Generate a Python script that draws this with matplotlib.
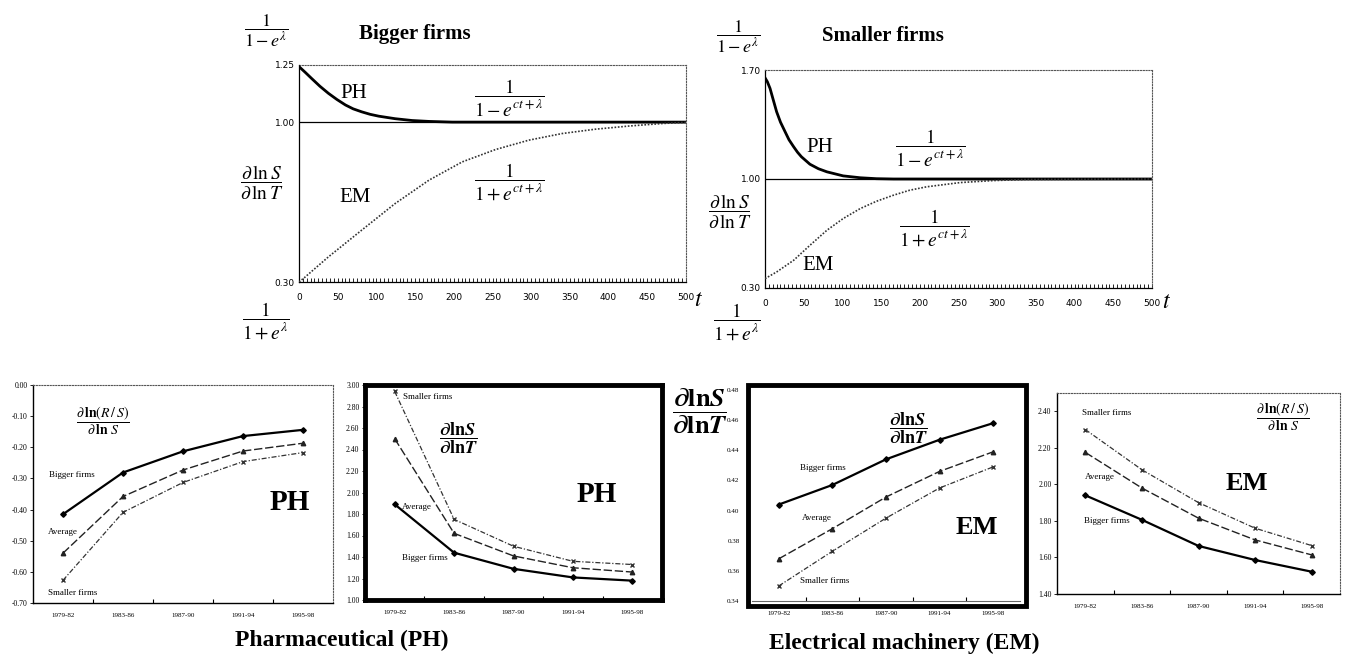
import matplotlib
matplotlib.use('Agg')
import matplotlib.pyplot as plt
import numpy as np
from matplotlib.ticker import MultipleLocator, FixedLocator
from matplotlib.patches import Rectangle

# ---------------- data ----------------
# Top panels: curves (t, dlnS/dlnT)
t_big_ph = [0, 8, 16, 27, 38, 49, 60, 70, 81, 92, 103, 124, 146, 168, 198, 500]
v_big_ph = [1.243, 1.218, 1.192, 1.157, 1.126, 1.099, 1.075, 1.058, 1.045, 1.034, 1.026, 1.015,
            1.007, 1.003, 1.000, 1.000]
t_big_em = [0, 8, 38, 81, 124, 168, 211, 254, 297, 340, 383, 427, 470, 500]
v_big_em = [0.300, 0.322, 0.410, 0.527, 0.643, 0.746, 0.826, 0.880, 0.921, 0.950, 0.969, 0.983, 0.994, 0.999]
t_small_ph = [0, 3, 6.5, 10, 15, 20, 26, 31, 37, 42, 47, 58, 69, 80, 101, 123, 144, 166, 500]
v_small_ph = [1.650, 1.625, 1.582, 1.520, 1.432, 1.365, 1.303, 1.252, 1.207, 1.172, 1.143, 1.095,
              1.066, 1.046, 1.020, 1.008, 1.002, 1.000, 1.000]
t_small_em = [0, 15, 37, 58, 80, 101, 123, 144, 166, 187, 209, 252, 295, 338, 500]
v_small_em = [0.360, 0.403, 0.478, 0.574, 0.671, 0.746, 0.810, 0.857, 0.896, 0.928, 0.950, 0.977, 0.990, 0.997, 1.000]

periods = ['1979-82', '1983-86', '1987-90', '1991-94', '1995-98']

# PH: dln(R/S)/dlnS
ph_rs_bigger = [-0.415, -0.281, -0.213, -0.164, -0.144]
ph_rs_average = [-0.540, -0.358, -0.273, -0.212, -0.187]
ph_rs_smaller = [-0.627, -0.409, -0.313, -0.246, -0.217]
# PH: dlnS/dlnT
ph_st_smaller = [2.94, 1.75, 1.50, 1.36, 1.33]
ph_st_average = [2.50, 1.62, 1.41, 1.30, 1.26]
ph_st_bigger = [1.89, 1.44, 1.29, 1.21, 1.18]
# EM: dlnS/dlnT
em_st_bigger = [0.404, 0.417, 0.434, 0.447, 0.458]
em_st_average = [0.368, 0.388, 0.409, 0.426, 0.439]
em_st_smaller = [0.350, 0.373, 0.395, 0.415, 0.429]
# EM: dln(R/S)/dlnS
em_rs_smaller = [2.30, 2.08, 1.90, 1.76, 1.665]
em_rs_average = [2.175, 1.98, 1.815, 1.696, 1.614]
em_rs_bigger = [1.94, 1.806, 1.663, 1.586, 1.522]

# ---------------- figure ----------------
W, H = 1347, 656
plt.rcParams['mathtext.fontset'] = 'stix'
plt.rcParams['font.family'] = ['Liberation Serif', 'DejaVu Serif']
fig = plt.figure(figsize=(W / 100, H / 100), dpi=100)
fig.patch.set_facecolor('white')


def add_ax(x0, y0, x1, y1):
    return fig.add_axes([x0 / W, 1 - y1 / H, (x1 - x0) / W, (y1 - y0) / H])


def ft(x, y, s, **kw):
    kw.setdefault('ha', 'center')
    kw.setdefault('va', 'center')
    return fig.text(x / W, 1 - y / H, s, **kw)


def fmt(v):
    return '%.2f' % (0.0 if abs(v) < 1e-9 else v)


def style_top(ax, ymax, yticks):
    ax.set_xlim(0, 500)
    ax.set_ylim(0.30, ymax)
    for s in ['top', 'right']:
        ax.spines[s].set_linestyle((0, (1, 1.5)))
        ax.spines[s].set_linewidth(0.8)
        ax.spines[s].set_color('#555555')
    for s in ['left', 'bottom']:
        ax.spines[s].set_linewidth(0.9)
    ax.axhline(1.0, color='black', lw=0.9, zorder=1)
    ax.xaxis.set_major_locator(MultipleLocator(50))
    ax.xaxis.set_minor_locator(MultipleLocator(5))
    ax.tick_params(axis='x', which='both', direction='in', length=3, width=0.6)
    ax.tick_params(axis='x', labelsize=6.5, pad=8)
    ax.set_yticks(yticks)
    ax.set_yticklabels([fmt(v) for v in yticks])
    ax.tick_params(axis='y', length=0, labelsize=6.5, pad=3)
    for lab in ax.get_xticklabels() + ax.get_yticklabels():
        lab.set_family('DejaVu Sans')


# ---- top left: Bigger firms ----
ax1 = add_ax(299, 65, 686, 282)
style_top(ax1, 1.25, [0.30, 1.00, 1.25])
ax1.plot(t_big_ph, v_big_ph, color='black', lw=2.0, zorder=3, solid_joinstyle='round')
ax1.plot(t_big_em, v_big_em, color='#333333', lw=1.2, ls=(0, (1, 1)), zorder=3)

# ---- top right: Smaller firms ----
ax2 = add_ax(765, 70, 1152, 288)
style_top(ax2, 1.70, [0.30, 1.00, 1.70])
ax2.plot(t_small_ph, v_small_ph, color='black', lw=2.0, zorder=3, solid_joinstyle='round')
ax2.plot(t_small_em, v_small_em, color='#333333', lw=1.2, ls=(0, (1, 1)), zorder=3)

# top texts
frac_ph = r'$\dfrac{1}{1-e^{ct+\lambda}}$'
frac_em = r'$\dfrac{1}{1+e^{ct+\lambda}}$'
dsdt = r'$\dfrac{\partial\,\ln S}{\partial\,\ln T}$'
ft(266, 31, r'$\dfrac{1}{1-e^{\lambda}}$', fontsize=13)
ft(266, 321, r'$\dfrac{1}{1+e^{\lambda}}$', fontsize=14)
ft(738, 37, r'$\dfrac{1}{1-e^{\lambda}}$', fontsize=13)
ft(737, 322, r'$\dfrac{1}{1+e^{\lambda}}$', fontsize=14)
ft(415, 34, 'Bigger firms', fontsize=15, fontweight='bold')
ft(883, 36, 'Smaller firms', fontsize=15, fontweight='bold')
ft(262, 183, dsdt, fontsize=14)
ft(730, 212, dsdt, fontsize=14)
ft(354, 94, 'PH', fontsize=15)
ft(355, 197, 'EM', fontsize=15)
ft(509, 98, frac_ph, fontsize=14)
ft(509, 182, frac_em, fontsize=14)
ft(820, 147, 'PH', fontsize=15)
ft(818, 265, 'EM', fontsize=15)
ft(930, 148, frac_ph, fontsize=14)
ft(934, 228, frac_em, fontsize=14)
ft(699, 300, r'$t$', fontsize=17)
ft(1166, 303, r'$t$', fontsize=17)


# ---------------- bottom panels ----------------
x = np.arange(len(periods))


def style_bottom(ax, ylo, yhi, yticks, dotted=True):
    ax.set_xlim(-0.5, len(periods) - 0.5)
    ax.set_ylim(ylo, yhi)
    ax.set_xticks(x)
    ax.set_xticklabels(periods)
    ax.xaxis.set_minor_locator(FixedLocator(x[:-1] + 0.5))
    ax.tick_params(axis='x', which='major', length=0, labelsize=5, pad=7)
    ax.tick_params(axis='x', which='minor', direction='in', length=3, width=0.8)
    ax.set_yticks(yticks)
    ax.set_yticklabels([fmt(v) for v in yticks])
    ax.tick_params(axis='y', length=2, width=0.6, labelsize=5.5, pad=2)
    if dotted:
        for s in ['top', 'right']:
            ax.spines[s].set_linestyle((0, (1, 1.5)))
            ax.spines[s].set_linewidth(0.8)
            ax.spines[s].set_color('#555555')
        for s in ['left', 'bottom']:
            ax.spines[s].set_linewidth(1.0)


def draw_lines(ax, big, avg, small):
    ax.plot(x, big, color='black', lw=1.6, marker='D', ms=2.8, zorder=4)
    ax.plot(x, avg, color='#222222', lw=1.0, ls=(0, (6, 2)), marker='^', ms=3.2, zorder=3)
    ax.plot(x, small, color='#333333', lw=0.9, ls=(0, (4, 1.5, 1, 1.5)), marker='x', ms=3.5,
            mew=1.0, zorder=3)


lab_kw = dict(fontsize=6.5, ha='center', va='center')

# A: PH dln(R/S)/dlnS
axA = add_ax(33, 385, 333, 603)
style_bottom(axA, -0.70, 0.0, list(np.round(np.arange(-0.70, 0.001, 0.10), 2)))
draw_lines(axA, ph_rs_bigger, ph_rs_average, ph_rs_smaller)
ft(72, 475, 'Bigger firms', **lab_kw)
ft(63, 532, 'Average', **lab_kw)
ft(73, 593, 'Smaller firms', **lab_kw)
ft(103, 421, r'$\dfrac{\partial\,\mathbf{ln}(R\,/\,S)}{\partial\,\mathbf{ln}\ S}$', fontsize=10)
ft(290, 503, 'PH', fontsize=21, fontweight='bold')

# B: PH dlnS/dlnT
axB = add_ax(365, 385, 662, 600)
style_bottom(axB, 1.00, 3.00, list(np.round(np.arange(1.0, 3.001, 0.2), 2)), dotted=False)
for s in axB.spines.values():
    s.set_linewidth(3.5)
draw_lines(axB, ph_st_bigger, ph_st_average, ph_st_smaller)
ft(428, 397, 'Smaller firms', **lab_kw)
ft(417, 507, 'Average', **lab_kw)
ft(425, 558, 'Bigger firms', **lab_kw)
bold_frac = r'$\dfrac{\mathbf{\partial ln}\boldsymbol{S}}{\mathbf{\partial ln}\boldsymbol{T}}$'
ft(458, 438, bold_frac, fontsize=13)
ft(597, 495, 'PH', fontsize=21, fontweight='bold')

# center big fraction
ft(700, 411, bold_frac, fontsize=19)

# C: EM dlnS/dlnT
axC = add_ax(752, 390, 1020, 601)
style_bottom(axC, 0.34, 0.48, list(np.round(np.arange(0.34, 0.481, 0.02), 2)), dotted=False)
for s in axC.spines.values():
    s.set_visible(False)
axC.spines['bottom'].set_visible(True)
axC.spines['bottom'].set_color('#666666')
axC.tick_params(axis='y', pad=9, length=0, labelsize=5)
fig.patches.append(Rectangle((748 / W, 1 - 606 / H), (1026 - 748) / W, (606 - 385) / H,
                             transform=fig.transFigure, fill=False, lw=3.5, ec='black'))
draw_lines(axC, em_st_bigger, em_st_average, em_st_smaller)
ft(823, 468, 'Bigger firms', **lab_kw)
ft(817, 518, 'Average', **lab_kw)
ft(825, 581, 'Smaller firms', **lab_kw)
ft(908, 428, bold_frac, fontsize=13)
ft(977, 527, 'EM', fontsize=19, fontweight='bold')

# D: EM dln(R/S)/dlnS
axD = add_ax(1057, 393, 1340, 594)
style_bottom(axD, 1.40, 2.50, list(np.round(np.arange(1.4, 2.401, 0.2), 2)))
draw_lines(axD, em_rs_bigger, em_rs_average, em_rs_smaller)
ft(1107, 413, 'Smaller firms', **lab_kw)
ft(1100, 477, 'Average', **lab_kw)
ft(1107, 521, 'Bigger firms', **lab_kw)
ft(1283, 417, r'$\dfrac{\partial\,\mathbf{ln}(R\,/\,S)}{\partial\,\mathbf{ln}\ S}$', fontsize=10)
ft(1247, 483, 'EM', fontsize=19, fontweight='bold')

# section titles
ft(342, 640, 'Pharmaceutical (PH)', fontsize=17, fontweight='bold')
ft(904, 643, 'Electrical machinery (EM)', fontsize=17, fontweight='bold')

fig.savefig('out.png', dpi=100, facecolor='white')
